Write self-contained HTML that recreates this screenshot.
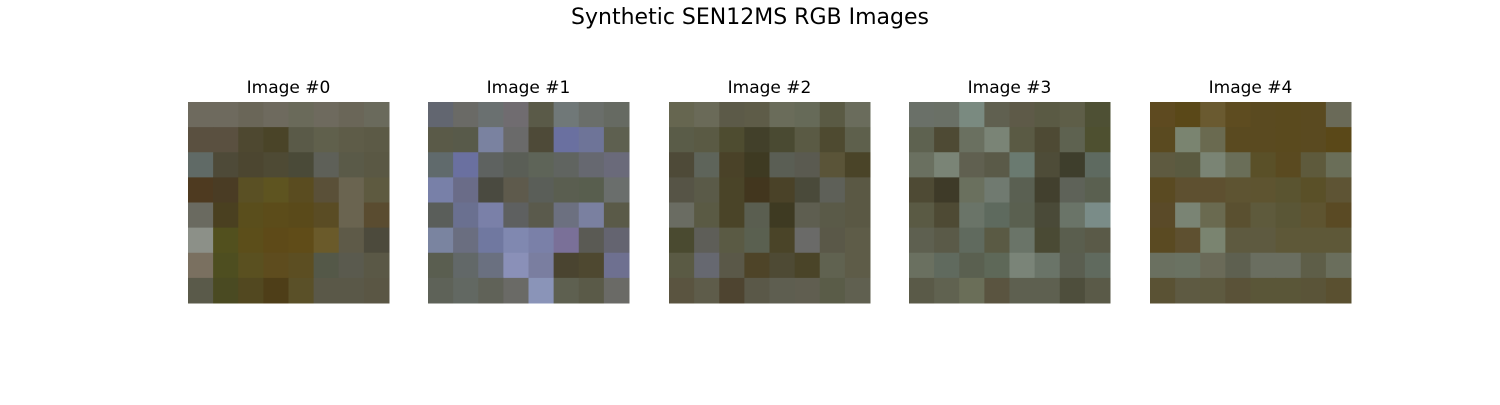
<!DOCTYPE html>
<html><head><meta charset="utf-8"><style>
body{margin:0;width:1500px;height:400px;background:#fff;overflow:hidden;font-family:"Liberation Sans","DejaVu Sans",sans-serif}
</style></head><body>
<svg id="fig" width="1500" height="400">
<text x="750" y="24" text-anchor="middle" font-size="22" font-family="DejaVu Sans, Liberation Sans, sans-serif">Synthetic SEN12MS RGB Images</text>
</svg>
<script>
const titles=["Image #0","Image #1","Image #2","Image #3","Image #4"];
const img0=[
"6e6a5e 6e6a5e 6a6658 6e6a5e 6a6a5a 6e6a5e 6a6658 6a6a5c",
"5a5040 5a5040 4e4830 4a4428 5a5a48 60604c 5e5c48 5c5a46",
"606a66 4e4a38 4c4630 4e4a34 4a4a38 5e6058 5a5a48 5a5844",
"4e3a20 4a3c24 5a5024 5e5420 5a4c20 5a5038 6a6450 5e5a40",
"6a6a60 4a4020 5a4e1c 5c4c1a 5a4a1a 5a4c24 6a6450 5a4c30",
"8c9088 52501e 5c4e1a 5e4a18 604c18 6a5a2a 5e5a48 4c4a3c",
"7a7060 4e4e20 5a5020 5e4c1e 5c4e22 545848 5a5a4e 5a5846",
"5a5a4a 4a4a22 524820 4e3e18 5a5028 5a5848 5a5848 5a5644"];
const img1=[
"626670 6a6a66 6a7070 706c70 5a5a48 707878 6a6e6a 666a62",
"5a5a48 585a4a 7a82a0 6a6a6a 4e4a38 6a70a0 6e7498 5e6050",
"606a6c 6a70a0 5e6260 5a5e56 5e6458 606460 666870 6a6a7a",
"7880a8 6a6c88 4a4a40 5e5a4c 5a5e58 5a5e50 585e4e 6a6e6c",
"5a5e5a 6a7090 7a80a8 5e6060 5a5a4c 6c7080 7a80a0 5a5a48",
"7a84a0 6a6e80 7078a0 8088b0 7a80a8 7a7098 5a5a54 646470",
"5a5e50 626868 6a7080 8a90b8 7a7ea0 4a4430 4e4830 6e7090",
"5e6258 626862 606258 6a6a66 8a94b8 5e6050 5a5a48 6a6a66"];
const img2=[
"666650 6a6a58 5c5a48 5e5c48 6a6c5a 666a58 5a5a44 6a6c5c",
"5a5c48 5a5a44 4e4c30 42402a 4a4a32 5a5a44 4e4a30 5e604c",
"4e4a38 5e645a 4a4228 3e3a22 5a5e54 5a5a50 5a5438 4a4428",
"565446 5a5a48 4a4428 42361e 4a4228 4a4a3a 5e6058 5a5844",
"6a6c62 5a5a44 4a4428 5a5e50 3e3a22 5e5e50 5a5a48 5a5844",
"4a4a30 5e5e58 5a5a44 5a6050 4a4428 6a6a68 5a5848 5e5c48",
"5a5a44 666870 5a5848 4e4428 4e4a34 4a4428 606250 5e5c48",
"5a5440 5e5c4a 4e4430 5a5848 5e5e50 605e50 5a5c48 606050"];
const img3=[
"6a7068 6a7066 7a8a80 606050 5e5a48 5a5a44 5e5e48 4e5034",
"5e6250 4e4a34 6a7060 7a8476 5a5a44 4e4a34 5e6250 4e5030",
"6a7060 7a8476 606050 5a5a48 6a7a70 4e4c38 3e3e2c 5e6a60",
"4e4a34 3e3a28 6a705e 707a70 5a6052 42402e 5e6258 5a6050",
"5a5a44 4e4a34 6a7468 5e6a5e 5a6050 4a4a38 6a7468 7a8c88",
"5e6050 5a5a48 606a5e 5a5a44 6a7468 4a4a34 5a5e4e 5a5a48",
"6a7060 606a5e 5a6050 5e6858 7a8478 6a7468 5a5e50 606a5e",
"5a5a48 606250 6a6e58 5a5440 5e6050 5e6050 4e4e3c 5a5a48"];
const img4=[
"5e4a20 5a4818 6a5a30 5e4c20 5a4a20 5a4a1e 5a4a20 6a6a58",
"5a4a20 7a8470 6a6a50 5a4a20 5a4a20 5a4a1e 5a4a20 5a4818",
"5e5a40 5a5a40 7a8474 6a6e58 5a5028 5a4a20 5e5a3c 6a6e58",
"5a4a22 5e5030 5e5030 5e5432 5e5430 5a5430 5a5028 5e5434",
"5a4a28 7a8474 6a6a50 5a5030 5e5a3c 5a5636 5e5430 5a4a24",
"5a4a22 5e5030 7a8470 5e5a40 5e5a40 5e5838 5e5838 5e5838",
"6a7060 6a7262 6a6a58 5e6050 6a6e60 6a6e60 5e5e48 6a6e5c",
"5a5234 5e5a42 5e5a40 5a5238 5a5638 5a5638 5a5438 5a5030"];
const images=[img0,img1,img2,img3,img4];
const lefts=[188,428,669,909,1150];
const NS="http://www.w3.org/2000/svg";
const svg=document.getElementById('fig');
const top0=102,size=201;
images.forEach((im,k)=>{
  const g=document.createElementNS(NS,'g');
  
  
  const t=document.createElementNS(NS,'text');
  t.setAttribute('x',lefts[k]+size/2);t.setAttribute('y',93);
  t.setAttribute('text-anchor','middle');t.setAttribute('font-size','17');
  t.setAttribute('font-family','DejaVu Sans, Liberation Sans, sans-serif');
  t.textContent=titles[k];
  
  
  g.appendChild(t);
  const n=im.length,cell=size/n;
  im.forEach((row,r)=>{row.split(' ').forEach((c,ci)=>{
    const rc=document.createElementNS(NS,'rect');
    rc.setAttribute('x',lefts[k]+ci*cell);rc.setAttribute('y',top0+r*cell);
    rc.setAttribute('width',cell+0.5);rc.setAttribute('height',cell+0.5);
    rc.setAttribute('fill','#'+c);
    
    
    g.appendChild(rc);
  });});
  svg.appendChild(g);
});
</script>
</body></html>
